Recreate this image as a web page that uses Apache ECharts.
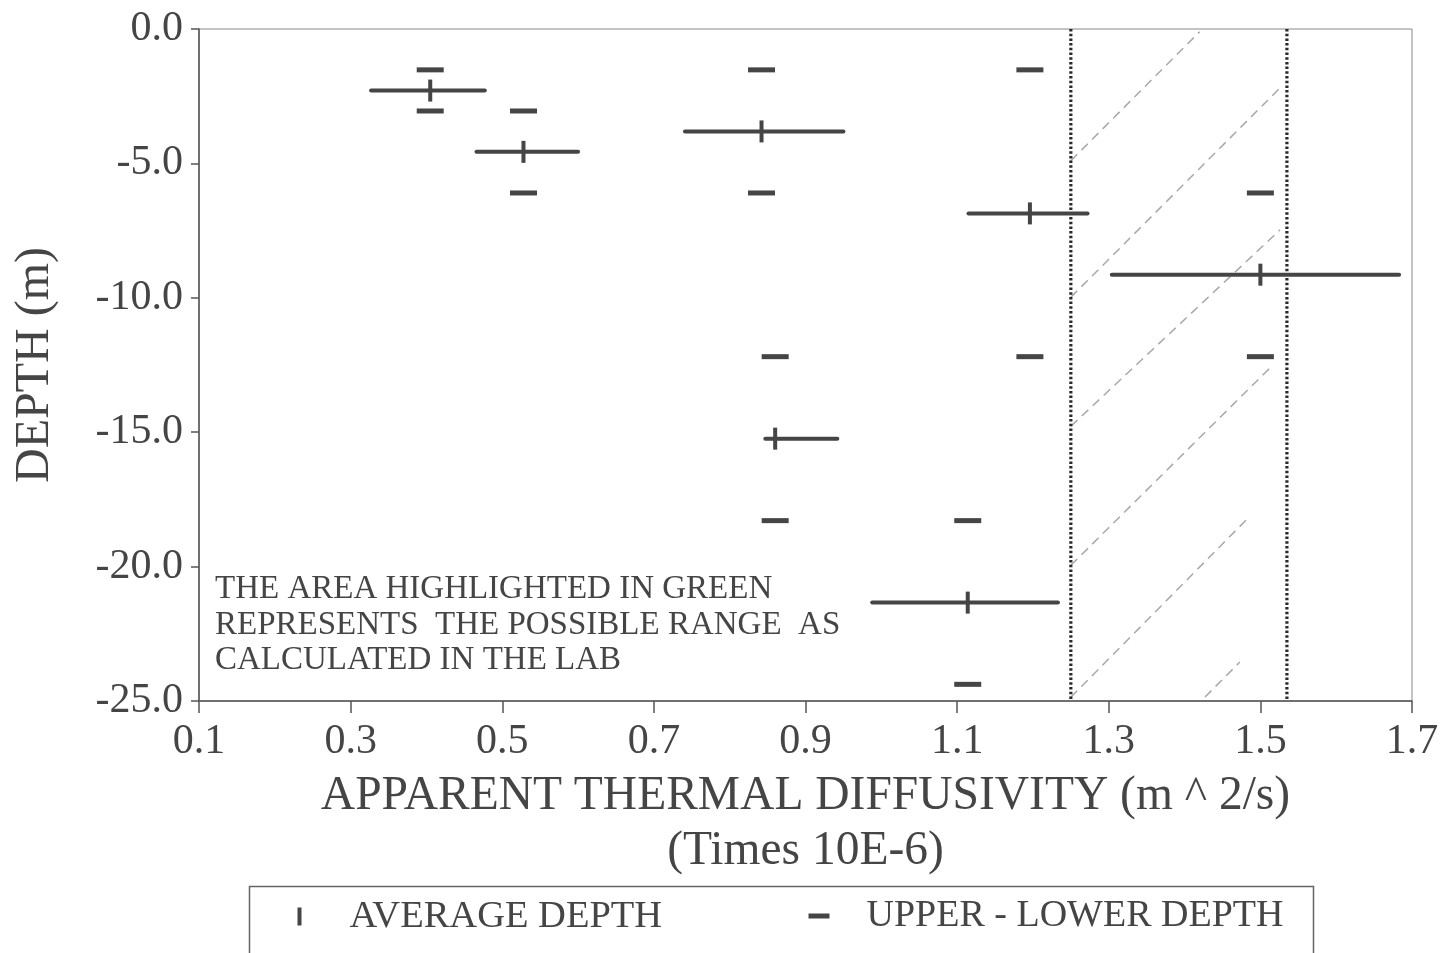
<!DOCTYPE html>
<html>
<head>
<meta charset="utf-8">
<script src="https://cdn.jsdelivr.net/npm/echarts@6/dist/echarts.min.js"></script>
<style>
html,body{margin:0;padding:0;background:#fff;}
#chart{width:1444px;height:953px;}
</style>
</head>
<body>
<div id="chart"></div>
<script>
// ---- data ----
const depthAvg   = [-2.29, -4.57, -3.81, -6.86, -9.14, -15.24, -21.34];
const diffMean   = [0.405, 0.528, 0.842, 1.196, 1.500, 0.860, 1.114];
const diffLow    = [0.327, 0.466, 0.741, 1.115, 1.304, 0.847, 0.988];
const diffHigh   = [0.477, 0.600, 0.950, 1.272, 1.683, 0.942, 1.233];
const depthUpper = [-1.52, -3.05, -1.52, -1.52, -6.10, -12.19, -18.29];
const depthLower = [-3.05, -6.10, -6.10, -12.19, -12.19, -18.29, -24.38];
const labRange   = [1.25, 1.535];
// hatch strokes inside the lab range: [x1, y1, x2, y2]
const hatchLines = [
  [1.250, -4.90, 1.420, -0.10],
  [1.250, -9.98, 1.526, -2.19],
  [1.250, -14.78, 1.526, -7.47],
  [1.250, -19.95, 1.513, -12.60],
  [1.250, -24.86, 1.486, -18.13],
  [1.427, -24.85, 1.473, -23.55]
];
const xTicks = [0.1, 0.3, 0.5, 0.7, 0.9, 1.1, 1.3, 1.5, 1.7];
const noteLines = ['THE AREA HIGHLIGHTED IN GREEN', 'REPRESENTS  THE POSSIBLE RANGE  AS', 'CALCULATED IN THE LAB'];
const legendNames = ['AVERAGE DEPTH', 'UPPER - LOWER DEPTH'];

const FONT = '"Liberation Serif", "DejaVu Serif", serif';
const INK = '#454545';

const chart = echarts.init(document.getElementById('chart'), null, {renderer: 'canvas'});

const rangeData = depthAvg.map((d, i) => [diffLow[i], diffHigh[i], d]);
const avgData = depthAvg.map((d, i) => [diffMean[i], d]);
const ulData = [];
depthAvg.forEach((d, i) => {
  ulData.push([diffMean[i], depthUpper[i]]);
  ulData.push([diffMean[i], depthLower[i]]);
});

const series = [];
hatchLines.forEach((h, i) => {
  series.push({
    type: 'line', name: 'hatch' + i, silent: true, symbol: 'none',
    data: [[h[0], h[1]], [h[2], h[3]]],
    lineStyle: {color: '#a8a8a8', width: 1.5, type: [9, 6]},
    z: 1
  });
});
labRange.forEach((x, i) => {
  series.push({
    type: 'line', name: 'lab' + i, silent: true, symbol: 'none',
    data: [[x, 0], [x, -25]],
    lineStyle: {color: '#2a2a2a', width: 3.2, type: [2.5, 2.2]},
    z: 2
  });
});
series.push({
  type: 'custom', name: 'range',
  data: rangeData,
  renderItem: function (params, api) {
    const a = api.coord([api.value(0), api.value(2)]);
    const b = api.coord([api.value(1), api.value(2)]);
    return {
      type: 'line',
      shape: {x1: a[0], y1: a[1], x2: b[0], y2: b[1]},
      style: {stroke: INK, lineWidth: 4, lineCap: 'round'}
    };
  },
  z: 3
});
series.push({
  type: 'scatter', name: legendNames[0],
  data: avgData, symbol: 'rect', symbolSize: [4, 22],
  itemStyle: {color: INK, opacity: 1}, z: 4
});
series.push({
  type: 'scatter', name: legendNames[1],
  data: ulData, symbol: 'rect', symbolSize: [27, 5],
  itemStyle: {color: INK, opacity: 1}, z: 4
});

const option = {
  animation: false,
  backgroundColor: '#fff',
  grid: {left: 199, right: 32, top: 29, bottom: 252, show: true, borderColor: '#888', borderWidth: 1},
  xAxis: {
    type: 'value', min: 0.1, max: 1.7,
    name: 'APPARENT THERMAL DIFFUSIVITY (m ^ 2/s)\n(Times 10E-6)',
    nameLocation: 'middle', nameGap: 68,
    nameTextStyle: {fontFamily: FONT, fontSize: 47.5, color: INK, lineHeight: 55},
    axisLine: {show: true, onZero: false, lineStyle: {color: '#555', width: 1.5}},
    axisTick: {show: true, length: 12, customValues: xTicks, lineStyle: {color: '#555', width: 1.5}},
    axisLabel: {customValues: xTicks, margin: 20, fontFamily: FONT, fontSize: 42, color: INK,
      formatter: v => v.toFixed(1)},
    splitLine: {show: false}
  },
  yAxis: {
    type: 'value', min: -25, max: 0, interval: 5,
    name: 'DEPTH (m)', nameLocation: 'middle', nameGap: 140, nameRotate: 90,
    nameTextStyle: {fontFamily: FONT, fontSize: 48, color: INK},
    axisLine: {show: true, onZero: false, lineStyle: {color: '#555', width: 1.5}},
    axisTick: {show: true, length: 8, lineStyle: {color: '#555', width: 1.5}},
    axisLabel: {margin: 16, fontFamily: FONT, fontSize: 42, color: INK,
      formatter: v => v.toFixed(1)},
    splitLine: {show: false}
  },
  graphic: [
    {
      type: 'text', left: 215, top: 572, silent: true,
      style: {text: noteLines.join('\n'), font: '33px ' + FONT, fill: INK, lineHeight: 35.5}
    },
    {
      type: 'group', left: 247, top: 884, silent: true,
      children: [
        {type: 'rect', shape: {x: 0, y: 0, width: 1064, height: 110},
          style: {fill: 'none', stroke: '#666', lineWidth: 1.5}},
        {type: 'rect', shape: {x: 48, y: 21, width: 4, height: 18}, style: {fill: INK}},
        {type: 'text', x: 100, y: 30,
          style: {text: legendNames[0], font: '38.5px ' + FONT, fill: INK, verticalAlign: 'middle'}},
        {type: 'rect', shape: {x: 559, y: 27, width: 21, height: 5}, style: {fill: INK}},
        {type: 'text', x: 617, y: 30,
          style: {text: legendNames[1], font: '38px ' + FONT, fill: INK, verticalAlign: 'middle'}}
      ]
    }
  ],
  series: series
};
chart.setOption(option);
</script>
</body>
</html>
